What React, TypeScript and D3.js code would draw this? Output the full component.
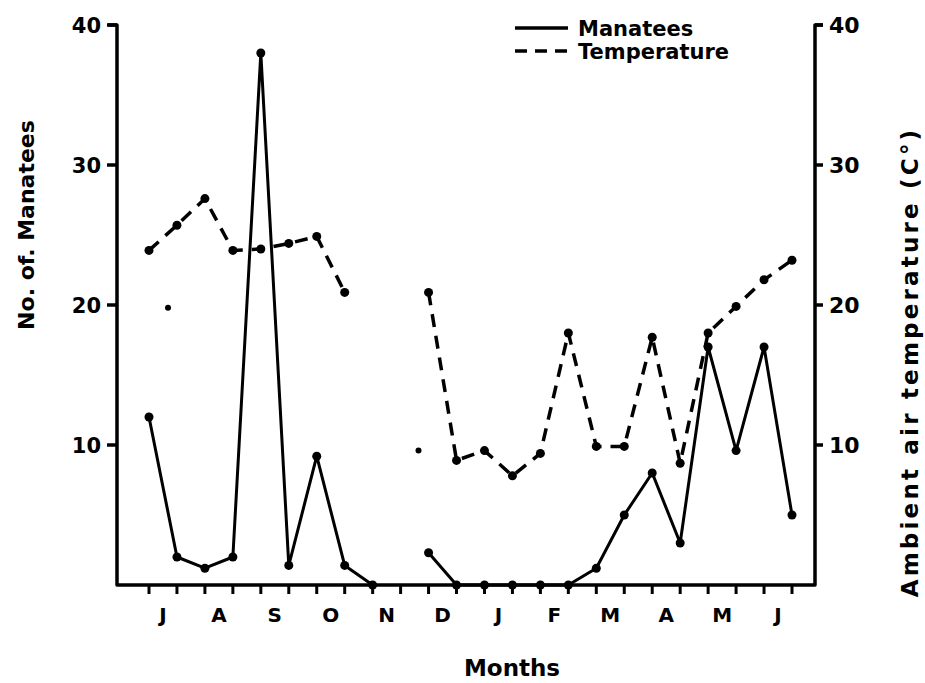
import React from "react";
import * as d3 from "d3";

// Half-month sampling positions (July .. June of next year), two per month
const monthLabels = ["J", "A", "S", "O", "N", "D", "J", "F", "M", "A", "M", "J"];
const manatees: (number | null)[] = [12, 2, 1.2, 2, 38, 1.4, 9.2, 1.4, 0, null, 2.3, 0, 0, 0, 0, 0, 1.2, 5, 8, 3, 17, 9.6, 17, 5];
const temperature: (number | null)[] = [23.9, 25.7, 27.6, 23.9, 24, 24.4, 24.9, 20.9, null, null, 20.9, 8.9, 9.6, 7.8, 9.4, 18, 9.9, 9.9, 17.7, 8.7, 18, 19.9, 21.8, 23.2];
const strayMarks: [number, number][] = [[0.68, 19.8], [9.64, 9.6]];
const leftTicks = [10, 20, 30, 40];
const rightTicks = [10, 20, 30, 40];

const W = 925;
const H = 683;
const FONT = "'DejaVu Sans', sans-serif";

export default function App() {
  const n = manatees.length;
  const x = d3.scaleLinear().domain([0, n - 1]).range([149, 792]);
  const y = d3.scaleLinear().domain([0, 40]).range([585, 25]);
  const xLeft = 117;
  const xRight = 815;
  const y0 = y(0);
  const yTop = y(40);

  const idx = d3.range(n);
  const line = d3
    .line<number>()
    .defined((i) => manatees[i] != null)
    .x((i) => x(i))
    .y((i) => y(manatees[i] as number));
  const tline = d3
    .line<number>()
    .defined((i) => temperature[i] != null)
    .x((i) => x(i))
    .y((i) => y(temperature[i] as number));

  return (
    <svg width={W} height={H} style={{ position: "absolute", left: 0, top: 0, background: "#fff" }}>
      <rect width={W} height={H} fill="#fff" />
      {/* frame */}
      <path
        d={`M${xLeft - 9},${yTop} L${xLeft},${yTop} L${xLeft},${y0} L${xRight},${y0} L${xRight},${yTop} L${xRight + 8},${yTop}`}
        fill="none"
        stroke="#000"
        strokeWidth={3.5}
        strokeLinejoin="round"
      />
      {/* left ticks */}
      {leftTicks.map((t) => (
        <g key={"l" + t}>
          <line x1={xLeft - 10} x2={xLeft} y1={y(t)} y2={y(t)} stroke="#000" strokeWidth={3.5} />
          <text x={xLeft - 16} y={y(t)} dy="0.36em" textAnchor="end" fontFamily={FONT} fontWeight="bold" fontSize={21}>
            {t}
          </text>
        </g>
      ))}
      {/* right ticks */}
      {rightTicks.map((t) => (
        <g key={"r" + t}>
          <line x1={xRight} x2={xRight + 8} y1={y(t)} y2={y(t)} stroke="#000" strokeWidth={3.5} />
          <text x={xRight + 14} y={y(t)} dy="0.36em" textAnchor="start" fontFamily={FONT} fontWeight="bold" fontSize={22}>
            {t}
          </text>
        </g>
      ))}
      {/* bottom ticks */}
      {idx.map((i) => (
        <line key={"b" + i} x1={x(i)} x2={x(i)} y1={y0} y2={y0 + 9} stroke="#000" strokeWidth={3} />
      ))}
      {monthLabels.map((m, k) => (
        <text
          key={"m" + k}
          x={(x(2 * k) + x(2 * k + 1)) / 2}
          y={y0 + 37}
          textAnchor="middle"
          fontFamily={FONT}
          fontWeight="bold"
          fontSize={20}
        >
          {m}
        </text>
      ))}
      <text x={512} y={676} textAnchor="middle" fontFamily={FONT} fontWeight="bold" fontSize={23}>
        Months
      </text>
      <text
        transform={`translate(34,225) rotate(-90)`}
        textAnchor="middle"
        fontFamily={FONT}
        fontWeight="bold"
        fontSize={22}
      >
        No. of. Manatees
      </text>
      <text
        transform={`translate(918,362) rotate(-90)`}
        textAnchor="middle"
        fontFamily={FONT}
        fontWeight="bold"
        fontSize={23}
        letterSpacing={3.2}
      >
        Ambient air temperature (C°)
      </text>

      {/* series */}
      <path d={line(idx) || ""} fill="none" stroke="#000" strokeWidth={3} strokeLinejoin="round" />
      <path d={tline(idx) || ""} fill="none" stroke="#000" strokeWidth={3.5} strokeDasharray="13,9" />
      {idx
        .filter((i) => manatees[i] != null)
        .map((i) => (
          <circle key={"mp" + i} cx={x(i)} cy={y(manatees[i] as number)} r={4.5} fill="#000" />
        ))}
      {idx
        .filter((i) => temperature[i] != null)
        .map((i) => (
          <circle key={"tp" + i} cx={x(i)} cy={y(temperature[i] as number)} r={4.5} fill="#000" />
        ))}
      {strayMarks.map(([i, v], k) => (
        <circle key={"s" + k} cx={x(i)} cy={y(v)} r={3} fill="#000" />
      ))}

      {/* legend */}
      <line x1={515} x2={568} y1={28} y2={28} stroke="#000" strokeWidth={3.5} />
      <text x={578} y={28} dy="0.36em" fontFamily={FONT} fontWeight="bold" fontSize={21}>
        Manatees
      </text>
      <line x1={515} x2={568} y1={51} y2={51} stroke="#000" strokeWidth={3.5} strokeDasharray="12,8" />
      <text x={578} y={51} dy="0.36em" fontFamily={FONT} fontWeight="bold" fontSize={21}>
        Temperature
      </text>
    </svg>
  );
}
